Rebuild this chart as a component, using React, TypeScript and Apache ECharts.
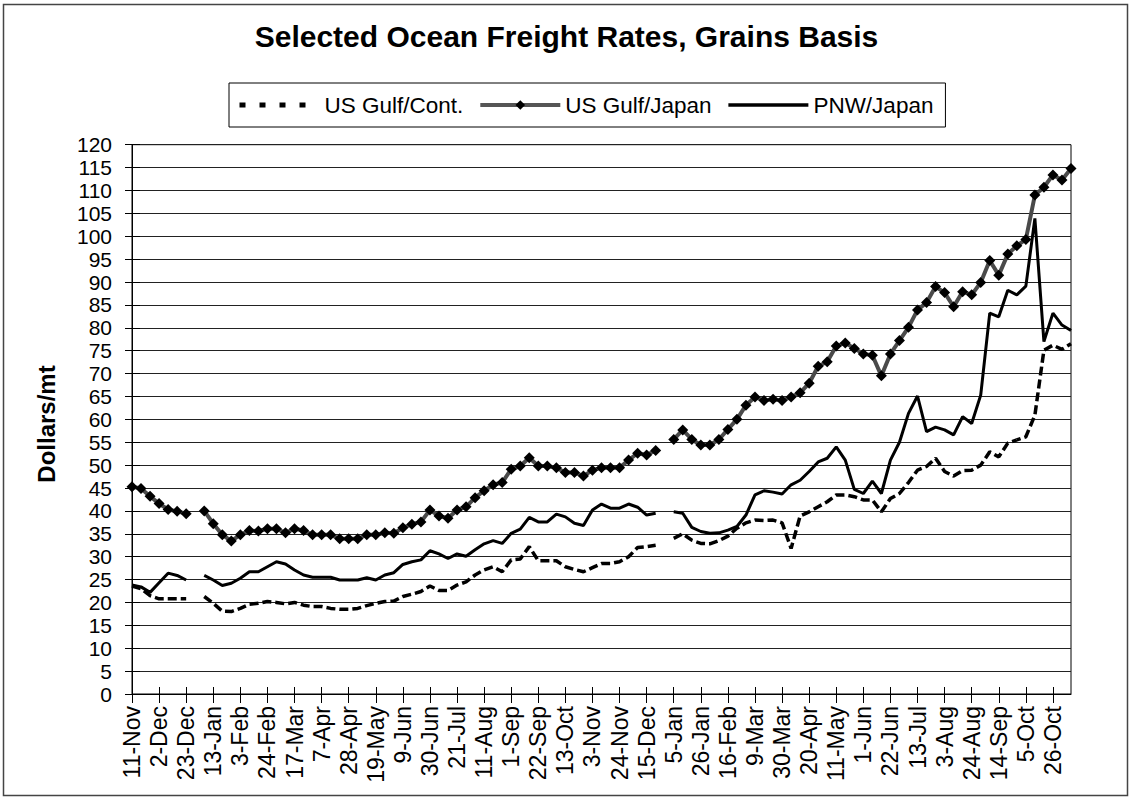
import React, { useEffect, useRef } from "react";
import * as echarts from "echarts";

const categories = [
  "11-Nov", "18-Nov", "25-Nov", "2-Dec", "9-Dec", "16-Dec", "23-Dec", "30-Dec",
  "6-Jan", "13-Jan", "20-Jan", "27-Jan", "3-Feb", "10-Feb", "17-Feb", "24-Feb",
  "3-Mar", "10-Mar", "17-Mar", "24-Mar", "31-Mar", "7-Apr", "14-Apr", "21-Apr",
  "28-Apr", "5-May", "12-May", "19-May", "26-May", "2-Jun", "9-Jun", "16-Jun",
  "23-Jun", "30-Jun", "7-Jul", "14-Jul", "21-Jul", "28-Jul", "4-Aug", "11-Aug",
  "18-Aug", "25-Aug", "1-Sep", "8-Sep", "15-Sep", "22-Sep", "29-Sep", "6-Oct",
  "13-Oct", "20-Oct", "27-Oct", "3-Nov", "10-Nov", "17-Nov", "24-Nov", "1-Dec",
  "8-Dec", "15-Dec", "22-Dec", "29-Dec", "5-Jan", "12-Jan", "19-Jan", "26-Jan",
  "2-Feb", "9-Feb", "16-Feb", "23-Feb", "2-Mar", "9-Mar", "16-Mar", "23-Mar",
  "30-Mar", "6-Apr", "13-Apr", "20-Apr", "27-Apr", "4-May", "11-May", "18-May",
  "25-May", "1-Jun", "8-Jun", "15-Jun", "22-Jun", "29-Jun", "6-Jul", "13-Jul",
  "20-Jul", "27-Jul", "3-Aug", "10-Aug", "17-Aug", "24-Aug", "31-Aug", "7-Sep",
  "14-Sep", "21-Sep", "28-Sep", "5-Oct", "12-Oct", "19-Oct", "26-Oct", "2-Nov",
  "9-Nov",
];

const usGulfCont = [
  23.6, 23.0, 21.5, 20.8, 20.8, 20.8, 20.8, null,
  21.3, 19.8, 18.1, 18.0, 18.7, 19.6, 19.8, 20.2,
  20.0, 19.7, 20.0, 19.4, 19.1, 19.1, 18.7, 18.5,
  18.5, 18.7, 19.3, 19.8, 20.2, 20.3, 21.3, 21.8,
  22.4, 23.6, 22.6, 22.6, 23.8, 24.5, 26.0, 27.1,
  27.8, 26.7, 29.3, 29.5, 32.2, 29.1, 29.1, 29.1,
  27.8, 27.2, 26.7, 27.6, 28.5, 28.5, 28.9, 30.0,
  32.0, 32.2, 32.5, null, 34.0, 35.0, 33.6, 32.9,
  32.8, 33.5, 34.5, 36.2, 37.4, 38.0, 37.9, 38.0,
  37.4, 31.8, 38.9, 39.8, 40.9, 42.0, 43.5, 43.5,
  43.1, 42.4, 42.4, 39.8, 42.7, 43.8, 46.2, 48.9,
  49.7, 51.5, 48.6, 47.6, 48.8, 48.9, 50.0, 52.9,
  51.8, 54.8, 55.5, 56.2, 60.9, 75.1, 76.2, 75.3,
  76.5,
];

const usGulfJapan = [
  45.3, 44.9, 43.2, 41.6, 40.3, 39.9, 39.4, null,
  40.0, 37.2, 34.8, 33.4, 34.8, 35.7, 35.6, 36.1,
  36.1, 35.2, 36.1, 35.7, 34.8, 34.8, 34.8, 33.9,
  33.9, 33.9, 34.8, 34.8, 35.2, 35.1, 36.3, 37.1,
  37.6, 40.2, 38.9, 38.4, 40.2, 40.9, 42.9, 44.4,
  45.7, 46.2, 49.1, 49.8, 51.6, 49.8, 49.8, 49.4,
  48.4, 48.4, 47.6, 48.9, 49.4, 49.4, 49.4, 51.1,
  52.6, 52.2, 53.2, null, 55.6, 57.7, 55.6, 54.4,
  54.4, 55.6, 57.8, 60.0, 63.1, 64.9, 64.1, 64.4,
  64.1, 64.9, 65.8, 67.9, 71.6, 72.6, 76.0, 76.7,
  75.5, 74.3, 74.0, 69.5, 74.3, 77.2, 80.1, 83.9,
  85.5, 89.0, 87.7, 84.6, 87.9, 87.2, 89.9, 94.7,
  91.5, 96.1, 97.9, 99.3, 109.0, 110.7, 113.4, 112.3,
  114.8,
];

const pnwJapan = [
  23.8, 23.4, 22.2, 24.3, 26.4, 25.9, 24.9, null,
  25.9, 24.9, 23.7, 24.2, 25.3, 26.7, 26.7, 27.8,
  28.9, 28.4, 27.1, 26.0, 25.5, 25.5, 25.5, 24.9,
  24.9, 24.9, 25.4, 24.9, 26.0, 26.5, 28.3, 28.9,
  29.3, 31.3, 30.6, 29.6, 30.6, 30.1, 31.5, 32.8,
  33.5, 32.9, 35.1, 36.0, 38.6, 37.6, 37.6, 39.3,
  38.7, 37.3, 36.8, 40.2, 41.5, 40.6, 40.6, 41.5,
  40.8, 39.1, 39.5, null, 39.8, 39.5, 36.4, 35.5,
  35.1, 35.2, 35.8, 36.6, 39.1, 43.5, 44.4, 44.1,
  43.7, 45.7, 46.7, 48.6, 50.7, 51.5, 54.0, 51.1,
  44.7, 43.8, 46.5, 43.8, 51.1, 55.0, 61.3, 65.1,
  57.3, 58.3, 57.7, 56.6, 60.6, 59.1, 65.3, 83.2,
  82.4, 88.2, 87.2, 89.1, 103.9, 77.0, 83.2, 80.6,
  79.4,
];

const FONT = "'Liberation Sans', Arial, sans-serif";

export default function App() {
  const ref = useRef<HTMLDivElement>(null);

  useEffect(() => {
    document.body.style.margin = "0";
    if (!ref.current) return;
    const chart = echarts.init(ref.current, undefined, { renderer: "svg" });

    const option: any = {
      animation: false,
      backgroundColor: "#fff",
      textStyle: { fontFamily: FONT, color: "#000" },
      title: {
        text: "Selected Ocean Freight Rates, Grains Basis",
        left: "center",
        top: 21,
        padding: 0,
        textStyle: { fontFamily: FONT, fontSize: 30, fontWeight: "bold", color: "#000" },
      },
      legend: {
        data: [
          {
            name: "US Gulf/Cont.",
            itemStyle: { opacity: 0 },
            lineStyle: { color: "#000", width: 5, type: [6, 14] },
          },
          {
            name: "US Gulf/Japan",
            itemStyle: { color: "#000", opacity: 1 },
            lineStyle: { color: "#555", width: 4, type: "solid" },
          },
          {
            name: "PNW/Japan",
            itemStyle: { opacity: 0 },
            lineStyle: { color: "#000", width: 3.5, type: "solid" },
          },
        ],
        left: 229,
        top: 83,
        orient: "horizontal",
        borderColor: "#000",
        borderWidth: 1,
        padding: [10, 12, 10, 8],
        itemWidth: 80,
        itemHeight: 12,
        itemGap: 15,
        textStyle: { fontFamily: FONT, fontSize: 22.5, color: "#000", lineHeight: 24 },
      },
      graphic: [
        {
          type: "rect",
          shape: { x: 3.5, y: 4.5, width: 1124, height: 791 },
          style: { fill: "none", stroke: "#444", lineWidth: 1.5 },
          silent: true,
        },
        {
          type: "text",
          x: 46,
          y: 424,
          rotation: Math.PI / 2,
          style: {
            text: "Dollars/mt",
            font: "bold 24px 'Liberation Sans', Arial, sans-serif",
            fill: "#000",
            textAlign: "center",
            textVerticalAlign: "middle",
          },
        },
      ],
      grid: {
        left: 132,
        right: 62,
        top: 144.7,
        bottom: 103,
        show: true,
        borderColor: "#000",
        borderWidth: 1,
        backgroundColor: "transparent",
      },
      xAxis: [
        {
          type: "category",
          data: categories,
          boundaryGap: false,
          axisLine: { show: true, lineStyle: { color: "#000", width: 1 } },
          axisTick: { show: true, interval: 2, length: 9, inside: false, lineStyle: { color: "#000" } },
          axisLabel: {
            interval: 2,
            rotate: 90,
            margin: 12,
            fontSize: 23,
            fontFamily: FONT,
            color: "#000",
          },
          splitLine: { show: false },
        },
        {
          type: "category",
          data: categories,
          boundaryGap: false,
          position: "bottom",
          axisLine: { show: false },
          axisTick: { show: true, interval: 2, length: 7, inside: true, lineStyle: { color: "#000" } },
          axisLabel: { show: false },
          splitLine: { show: false },
        },
      ],
      yAxis: [
        {
          type: "value",
          min: 0,
          max: 120,
          interval: 5,
          position: "left",
          axisLine: { show: true, lineStyle: { color: "#000", width: 1 } },
          axisTick: { show: true, length: 7, inside: false, lineStyle: { color: "#000" } },
          axisLabel: { margin: 20, fontSize: 21, fontFamily: FONT, color: "#000" },
          splitLine: { show: true, lineStyle: { color: "#222", width: 1 } },
        },
        {
          type: "value",
          min: 0,
          max: 120,
          interval: 5,
          position: "left",
          axisLine: { show: false },
          axisTick: { show: true, length: 8, inside: true, lineStyle: { color: "#000" } },
          axisLabel: { show: false },
          splitLine: { show: false },
        },
      ],
      series: [
        {
          name: "US Gulf/Cont.",
          type: "line",
          data: usGulfCont,
          symbol: "none",
          connectNulls: false,
          lineStyle: { color: "#000", width: 3.5, type: [9, 4] },
          itemStyle: { color: "#000" },
          z: 3,
        },
        {
          name: "US Gulf/Japan",
          type: "line",
          data: usGulfJapan,
          symbol: "diamond",
          symbolSize: 11,
          showSymbol: true,
          showAllSymbol: true,
          connectNulls: false,
          lineStyle: { color: "#4a4a4a", width: 4 },
          itemStyle: { color: "#000", borderWidth: 0 },
          z: 4,
        },
        {
          name: "PNW/Japan",
          type: "line",
          data: pnwJapan,
          symbol: "none",
          connectNulls: false,
          lineStyle: { color: "#000", width: 3 },
          itemStyle: { color: "#000" },
          z: 5,
        },
      ],
    };

    chart.setOption(option);
    return () => {
      chart.dispose();
    };
  }, []);

  return <div ref={ref} style={{ width: 1133, height: 797 }} />;
}
